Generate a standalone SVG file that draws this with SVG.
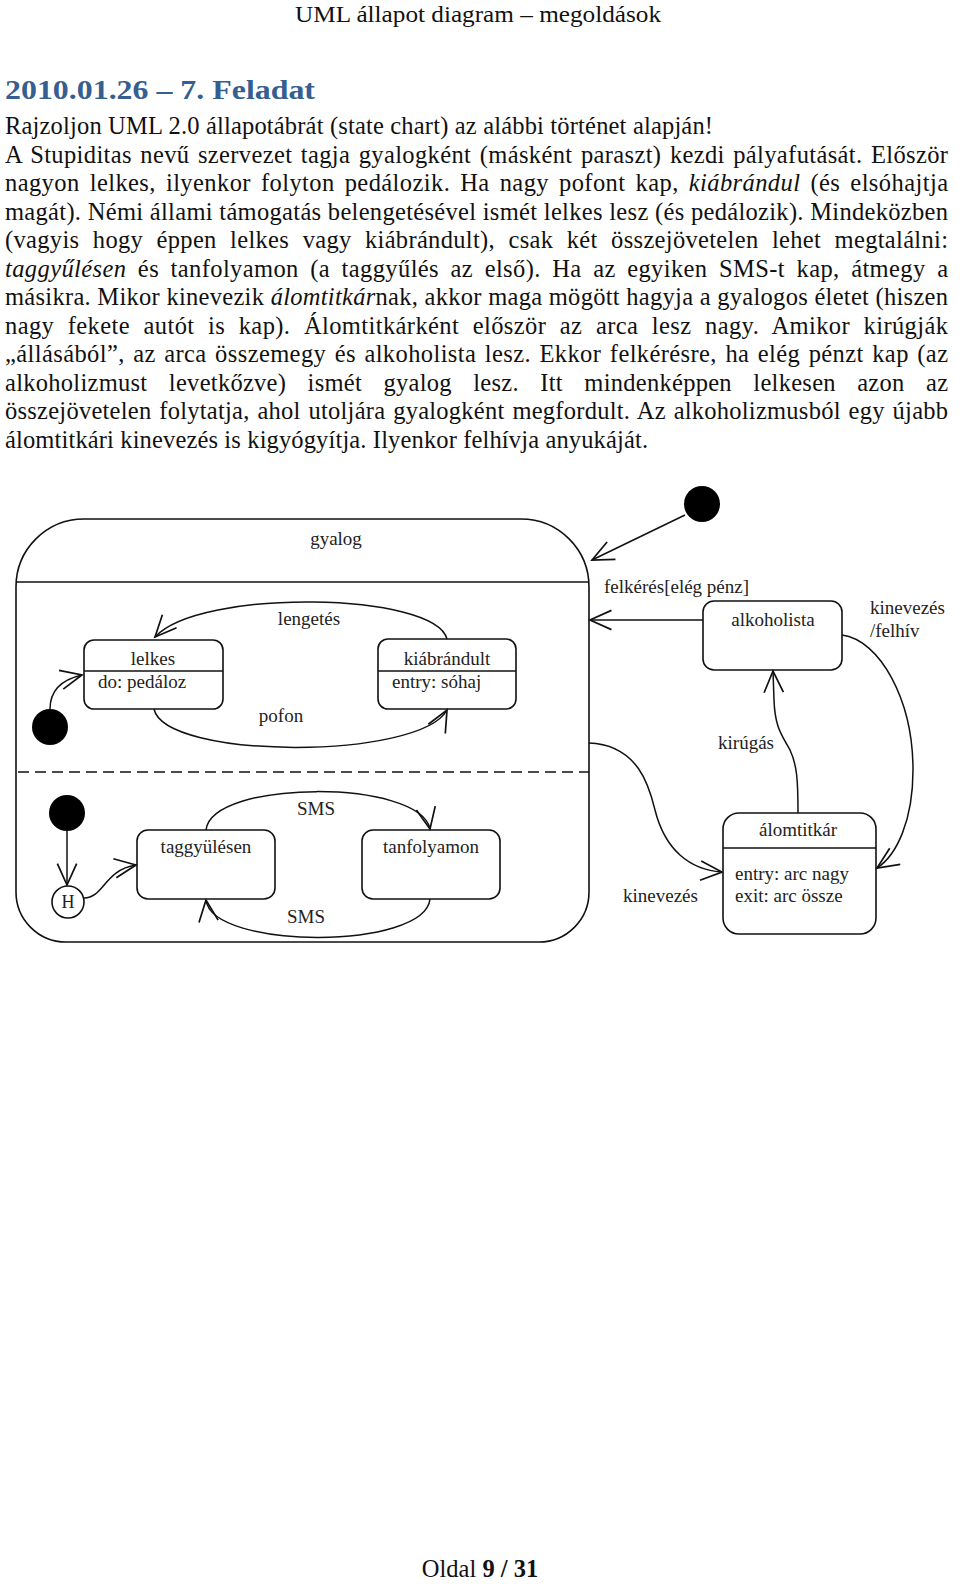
<svg xmlns="http://www.w3.org/2000/svg" width="960" height="1584" viewBox="0 0 960 1584">
<style>
.hdr{font-family:"Liberation Serif",serif;font-size:24px;fill:#111}
.ttl{font-family:"Liberation Serif",serif;font-size:27px;font-weight:bold;fill:#365f91}
.p{font-family:"Liberation Serif",serif;font-size:24.5px;fill:#111}
.i{font-style:italic}
.t{font-family:"Liberation Serif",serif;font-size:19px;fill:#222}
.c{text-anchor:middle}
.box{fill:#fff;stroke:#111;stroke-width:1.6}
.ln{fill:none;stroke:#111;stroke-width:1.5}
.arr{fill:none;stroke:#111;stroke-width:1.5;marker-end:url(#v)}
.dot{fill:#000}
</style>
<defs>
<marker id="v" markerUnits="userSpaceOnUse" markerWidth="30" markerHeight="30" viewBox="-24 -12 28 24" refX="0" refY="0" orient="auto">
<path d="M -20 -9 L 0 0 L -20 9" fill="none" stroke="#111" stroke-width="1.6"/>
</marker>
</defs>

<text class="hdr c" x="478" y="22" textLength="366" lengthAdjust="spacingAndGlyphs">UML állapot diagram – megoldások</text>
<text class="ttl" x="5" y="99" textLength="310" lengthAdjust="spacingAndGlyphs">2010.01.26 – 7. Feladat</text>

<g id="paragraph">
<text class="p" x="5" y="134" textLength="708" lengthAdjust="spacing">Rajzoljon UML 2.0 állapotábrát (state chart) az alábbi történet alapján!</text>
<text class="p" x="5" y="162.5" textLength="943" lengthAdjust="spacing" word-spacing="2">A Stupiditas nevű szervezet tagja gyalogként (másként paraszt) kezdi pályafutását. Először</text>
<text class="p" x="5" y="191" textLength="943" lengthAdjust="spacing" word-spacing="3.5">nagyon lelkes, ilyenkor folyton pedálozik. Ha nagy pofont kap, <tspan class="i">kiábrándul</tspan> (és elsóhajtja</text>
<text class="p" x="5" y="219.5" textLength="943" lengthAdjust="spacing">magát). Némi állami támogatás belengetésével ismét lelkes lesz (és pedálozik). Mindeközben</text>
<text class="p" x="5" y="248" textLength="943" lengthAdjust="spacing" word-spacing="7">(vagyis hogy éppen lelkes vagy kiábrándult), csak két összejövetelen lehet megtalálni:</text>
<text class="p" x="5" y="276.5" textLength="943" lengthAdjust="spacing" word-spacing="5">
<tspan class="i">taggyűlésen</tspan> és tanfolyamon (a taggyűlés az első). Ha az egyiken SMS-t kap, átmegy a</text>
<text class="p" x="5" y="305" textLength="943" lengthAdjust="spacing">másikra. Mikor kinevezik <tspan class="i">álomtitkár</tspan>nak, akkor maga mögött hagyja a gyalogos életet (hiszen</text>
<text class="p" x="5" y="333.5" textLength="943" lengthAdjust="spacing" word-spacing="7">nagy fekete autót is kap). Álomtitkárként először az arca lesz nagy. Amikor kirúgják</text>
<text class="p" x="5" y="362" textLength="943" lengthAdjust="spacing" word-spacing="2">„állásából”, az arca összemegy és alkoholista lesz. Ekkor felkérésre, ha elég pénzt kap (az</text>
<text class="p" x="5" y="390.5" textLength="943" lengthAdjust="spacing" word-spacing="15">alkoholizmust levetkőzve) ismét gyalog lesz. Itt mindenképpen lelkesen azon az</text>
<text class="p" x="5" y="419" textLength="943" lengthAdjust="spacing" word-spacing="1.5">összejövetelen folytatja, ahol utoljára gyalogként megfordult. Az alkoholizmusból egy újabb</text>
<text class="p" x="5" y="447.5" textLength="643" lengthAdjust="spacing">álomtitkári kinevezés is kigyógyítja. Ilyenkor felhívja anyukáját.</text>
</g>

<g id="gyalog">
<path class="box" d="M 84 519 H 521 A 68 68 0 0 1 589 587 V 892 A 50 50 0 0 1 539 942 H 66 A 50 50 0 0 1 16 892 V 587 A 68 68 0 0 1 84 519 Z"/>
<line class="ln" x1="16" y1="582" x2="589" y2="582"/>
<line class="ln" x1="18" y1="772" x2="589" y2="772" stroke-dasharray="11 6"/>
<text class="t c" x="336" y="545">gyalog</text>
</g>

<g id="init1"><circle class="dot" cx="50" cy="727" r="18"/></g>
<g id="lelkes">
<rect class="box" x="84" y="640" width="139" height="69" rx="10"/>
<line class="ln" x1="84" y1="671" x2="223" y2="671"/>
<text class="t c" x="153" y="665">lelkes</text>
<text class="t" x="98" y="688">do: pedáloz</text>
</g>
<g id="kiabrandult">
<rect class="box" x="378" y="639" width="138" height="70" rx="10"/>
<line class="ln" x1="378" y1="671" x2="516" y2="671"/>
<text class="t c" x="447" y="665">kiábrándult</text>
<text class="t" x="392" y="688">entry: sóhaj</text>
</g>

<g id="init2"><circle class="dot" cx="67" cy="813" r="18"/></g>
<g id="history">
<circle class="box" cx="68" cy="902" r="16" stroke-width="1.3"/>
<text class="t c" x="68" y="908" style="font-size:18px">H</text>
</g>
<g id="taggyulesen">
<rect class="box" x="137" y="830" width="138" height="69" rx="11"/>
<text class="t c" x="206" y="853">taggyülésen</text>
</g>
<g id="tanfolyamon">
<rect class="box" x="362" y="830" width="138" height="69" rx="11"/>
<text class="t c" x="431" y="853">tanfolyamon</text>
</g>

<g id="init3"><circle class="dot" cx="702" cy="504" r="18"/></g>
<g id="alkoholista">
<rect class="box" x="703" y="601" width="139" height="69" rx="11"/>
<text class="t c" x="773" y="626">alkoholista</text>
</g>
<g id="alomtitkar">
<rect class="box" x="723" y="813" width="153" height="121" rx="16"/>
<line class="ln" x1="723" y1="848" x2="876" y2="848"/>
<text class="t c" x="798" y="836">álomtitkár</text>
<text class="t" x="735" y="880">entry: arc nagy</text>
<text class="t" x="735" y="902">exit: arc össze</text>
</g>

<g id="connectors">
<path class="arr" d="M 50 709 C 50 692 60 680 82 675"/>
<path class="arr" d="M 447 639 C 435 592 200 588 155 637"/>
<path class="arr" d="M 154 709 C 165 760 420 760 447 710"/>
<path class="arr" d="M 67 831 L 67 885"/>
<path class="arr" d="M 84 898 C 104 898 104 870 136 865"/>
<path class="arr" d="M 206 830 C 212 779 420 779 430 829"/>
<path class="arr" d="M 430 899 C 425 950 212 950 206 900"/>
<path class="arr" d="M 685 515 L 592 560"/>
<path class="arr" d="M 703 620 L 590 620"/>
<path class="arr" d="M 842 635 C 880 640 913 700 913 770 C 913 820 897 855 877 868"/>
<path class="arr" d="M 798 813 C 798 780 797 765 790 750 C 782 735 775 728 774 700 L 773 671"/>
<path class="arr" d="M 589 743 C 640 745 650 790 655 810 C 665 850 690 870 722 872"/>
<text class="t c" x="309" y="625">lengetés</text>
<text class="t c" x="281" y="722">pofon</text>
<text class="t c" x="316" y="815">SMS</text>
<text class="t c" x="306" y="923">SMS</text>
<text class="t" x="604" y="593">felkérés[elég pénz]</text>
<text class="t" x="870" y="614">kinevezés</text>
<text class="t" x="870" y="637">/felhív</text>
<text class="t c" x="746" y="749">kirúgás</text>
<text class="t" x="623" y="902">kinevezés</text>
</g>

<text class="hdr c" x="480" y="1577" style="font-size:24.5px">Oldal <tspan font-weight="bold">9 / 31</tspan></text>
</svg>
